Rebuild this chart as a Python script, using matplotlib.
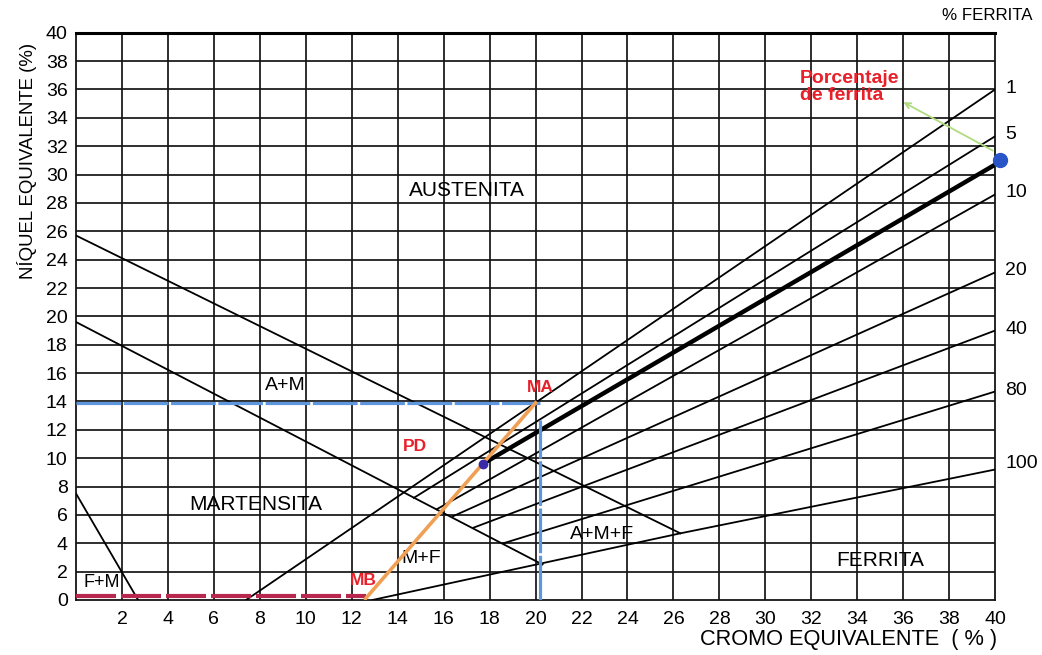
import matplotlib.pyplot as plt
import numpy as np

plt.rcParams["font.family"] = ["Liberation Sans", "DejaVu Sans"]

# ferrite lines (% ferrite), start point on the lower diagonal, end at Cr=40
ferrite_pct = ["1", "5", "10", "20", "40", "80"]
ferrite_x0 = [7.4, 14.7, 15.7, 16.4, 17.3, 18.6]
ferrite_y0 = [0.0, 7.2, 6.4, 5.9, 5.1, 4.0]
ferrite_y1 = [36.0, 32.7, 28.6, 23.1, 19.0, 14.7]

# ferrite boundary (the 100 % line)
ferrita_x = [12.9, 26.3, 40.0]
ferrita_y = [0.0, 4.7, 9.2]

# martensite boundaries
upper_diag_x = [0.0, 26.3]
upper_diag_y = [25.7, 4.7]
lower_diag_x = [0.0, 20.3]
lower_diag_y = [19.6, 2.5]
fm_x = [0.0, 2.7]
fm_y = [7.5, 0.0]

# thick line through the working point
thick_x = [17.7, 40.0]
thick_y = [9.6, 30.7]

# mixing path and points
mb = (12.6, 0.1)
ma = (20.0, 13.9)
pd_pt = (17.7, 9.6)
vert_x = 20.2
vert_top = 12.7
ferrite_pt = (40.2, 31.0)

# region labels
regions = [
    ("AUSTENITA", 17.0, 28.9, 15),
    ("A+M", 9.1, 15.1, 14),
    ("MARTENSITA", 7.8, 6.7, 15),
    ("F+M", 1.1, 1.2, 13),
    ("M+F", 15.0, 2.9, 14),
    ("A+M+F", 22.9, 4.6, 14),
    ("FERRITA", 35.0, 2.8, 15),
]

fig = plt.figure(figsize=(10.42, 6.55), dpi=100)
ax = fig.add_axes([0.073, 0.084, 0.882, 0.866])

ax.set_xlim(0, 40)
ax.set_ylim(0, 40)
ax.set_xticks(np.arange(2, 41, 2))
ax.set_yticks(np.arange(0, 41, 2))
ax.tick_params(length=0, labelsize=14, pad=6)
ax.tick_params(axis="x", pad=8)
for v in np.arange(2, 40, 2):
    ax.axvline(v, color="#151515", lw=1.25, zorder=1)
for v in np.arange(2, 40, 2):
    ax.axhline(v, color="#151515", lw=1.25, zorder=1)
for side in ["left", "right", "bottom"]:
    ax.spines[side].set_linewidth(1.3)
    ax.spines[side].set_color("#151515")
ax.spines["top"].set_linewidth(2.2)

ax.text(-2.15, 30.95, "NÍQUEL EQUIVALENTE (%)", fontsize=13.4, rotation=90,
        ha="center", va="center", clip_on=False)
ax.text(33.6, -2.8, "CROMO EQUIVALENTE  ( % )", fontsize=15.7,
        ha="center", va="center", clip_on=False)

lk = dict(color="black", lw=1.3, zorder=3)
for x0, y0, y1 in zip(ferrite_x0, ferrite_y0, ferrite_y1):
    ax.plot([x0, 40], [y0, y1], **lk)
ax.plot(ferrita_x, ferrita_y, **lk)
ax.plot(upper_diag_x, upper_diag_y, **lk)
ax.plot(lower_diag_x, lower_diag_y, **lk)
ax.plot(fm_x, fm_y, **lk)
ax.plot(thick_x, thick_y, color="black", lw=3.2, zorder=3)

for lab, y in zip(ferrite_pct + ["100"], ferrite_y1 + [ferrita_y[-1] + 0.3]):
    ax.text(40.45, y + 0.1, lab, fontsize=14, ha="left", va="center",
            clip_on=False)
ax.text(37.7, 41.25, "% FERRITA", fontsize=12.2, ha="left", va="center",
        clip_on=False)

for txt, x, y, fs in regions:
    ax.text(x, y, txt, fontsize=fs, ha="center", va="center", zorder=4)

# blue guide lines
ax.plot([0, ma[0] + 0.2], [ma[1], ma[1]], color="#5f97de", lw=2.3,
        dashes=(14, 0.8), zorder=5)
ax.plot([vert_x, vert_x], [0, vert_top], color="#5f97de", lw=2.3,
        dashes=(14, 0.8), zorder=5)

# red dashed base and orange path
ax.plot([0, mb[0]], [0.25, 0.25], color="#b8284e", lw=3, dashes=(9.6, 1.2),
        zorder=5, solid_capstyle="butt")
ax.plot([mb[0], ma[0]], [mb[1], ma[1]], color="#f0a055", lw=2.6, zorder=6)
ax.plot(*pd_pt, "o", color="#3a2aa8", ms=6, zorder=7)
ax.plot(*ferrite_pt, "o", color="#2a55c8", ms=10, zorder=7, clip_on=False)

red = "#e8202a"
ax.text(ma[0] + 0.2, ma[1] + 1.1, "MA", color=red, fontsize=12.5,
        fontweight="bold", ha="center", va="center", zorder=8)
ax.text(14.75, 10.8, "PD", color=red, fontsize=12.5, fontweight="bold",
        ha="center", va="center", zorder=8)
ax.text(12.5, 1.4, "MB", color=red, fontsize=12.5, fontweight="bold",
        ha="center", va="center", zorder=8)
ax.text(31.5, 36.2, "Porcentaje\nde ferrita", color=red, fontsize=14,
        fontweight="bold", ha="left", va="center", linespacing=1.0, zorder=8)

ax.annotate("", xy=(35.9, 35.2), xytext=(40.0, 31.6),
            arrowprops=dict(arrowstyle="->", color="#b0dc80", lw=1.3),
            zorder=8, annotation_clip=False)

fig.savefig("out.png", dpi=100)
